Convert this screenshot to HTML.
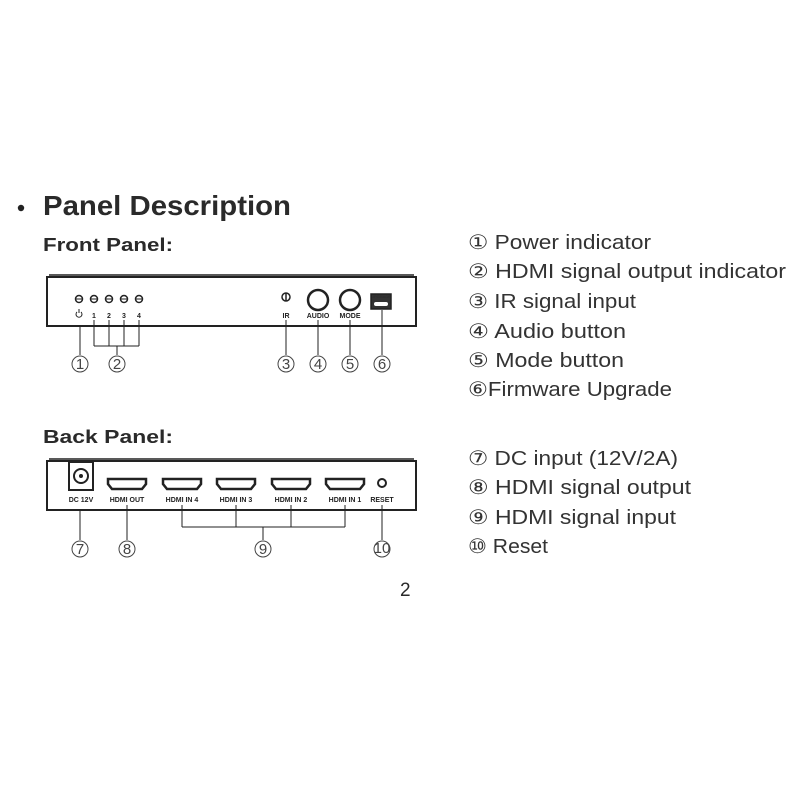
<!DOCTYPE html>
<html><head><meta charset="utf-8"><style>
body{margin:0;background:#fff;}
svg{display:block}
text{font-family:"Liberation Sans","DejaVu Sans",sans-serif;fill:#2a2a2a}
.b{font-weight:bold}
.r{font-size:20px;fill:#333}
.s{font-size:7px;font-weight:bold;fill:#222}
.n{font-size:15px;fill:#444;text-anchor:middle}
</style></head><body>
<svg width="800" height="800" viewBox="0 0 800 800" xmlns="http://www.w3.org/2000/svg">
<circle cx="21" cy="208" r="3.2" fill="#222"/>
<text x="43" y="215" class="b" font-size="28" textLength="248" lengthAdjust="spacingAndGlyphs">Panel Description</text>
<text x="43" y="251" class="b" font-size="18" textLength="130" lengthAdjust="spacingAndGlyphs" fill="#333">Front Panel:</text>
<text x="43" y="443" class="b" font-size="18" textLength="130" lengthAdjust="spacingAndGlyphs" fill="#333">Back  Panel:</text>

<text x="468" y="249" class="r" textLength="183" lengthAdjust="spacingAndGlyphs">① Power indicator</text>
<text x="468" y="278" class="r" textLength="318" lengthAdjust="spacingAndGlyphs">② HDMI signal output indicator</text>
<text x="468" y="308" class="r" textLength="168" lengthAdjust="spacingAndGlyphs">③ IR signal input</text>
<text x="468" y="338" class="r" textLength="158" lengthAdjust="spacingAndGlyphs">④ Audio button</text>
<text x="468" y="367" class="r" textLength="156" lengthAdjust="spacingAndGlyphs">⑤ Mode button</text>
<text x="468" y="396" class="r" textLength="204" lengthAdjust="spacingAndGlyphs">⑥Firmware Upgrade</text>
<text x="468" y="465" class="r" textLength="210" lengthAdjust="spacingAndGlyphs">⑦ DC input (12V/2A)</text>
<text x="468" y="494" class="r" textLength="223" lengthAdjust="spacingAndGlyphs">⑧ HDMI signal output</text>
<text x="468" y="524" class="r" textLength="208" lengthAdjust="spacingAndGlyphs">⑨ HDMI signal input</text>
<text x="468" y="553" class="r" textLength="80" lengthAdjust="spacingAndGlyphs">⑩ Reset</text>
<text x="400" y="596" font-size="19" fill="#333">2</text>

<!-- Front panel -->
<g stroke="#222" fill="none">
<path d="M49 275 L414 275" stroke-width="1.5"/>
<rect x="47" y="277" width="369" height="49" stroke-width="2"/>
<g stroke-width="1.5">
<circle cx="79" cy="299" r="3.5"/><circle cx="94" cy="299" r="3.5"/><circle cx="109" cy="299" r="3.5"/><circle cx="124" cy="299" r="3.5"/><circle cx="139" cy="299" r="3.5"/>
<path d="M75.5 299H82.5M90.5 299H97.5M105.5 299H112.5M120.5 299H127.5M135.5 299H142.5" stroke-width="1"/>
<circle cx="286" cy="297" r="4"/><path d="M286 293V301"/>
<circle cx="318" cy="300" r="10" stroke-width="2.5"/>
<circle cx="350" cy="300" r="10" stroke-width="2.5"/>
<rect x="371" y="294" width="20" height="15" fill="#333"/>
<rect x="374" y="302" width="14" height="4" rx="2" fill="#fff" stroke="none"/>
</g>
<path d="M80 326V355M94 320V346M109 320V346M124 320V346M139 320V346M94 346H139M117 346V355M286 320V355M318 320V355M350 320V355M382 310V355" stroke-width="1"/>
<g stroke-width="1" stroke="#444">
<circle cx="80" cy="364" r="8"/><circle cx="117" cy="364" r="8"/><circle cx="286" cy="364" r="8"/><circle cx="318" cy="364" r="8"/><circle cx="350" cy="364" r="8"/><circle cx="382" cy="364" r="8"/>
</g>
</g>
<path d="M77 312a3 3 0 1 0 4 0M79 309V313" stroke="#222" fill="none" stroke-width="1"/>
<text x="94" y="318" class="s" text-anchor="middle">1</text>
<text x="109" y="318" class="s" text-anchor="middle">2</text>
<text x="124" y="318" class="s" text-anchor="middle">3</text>
<text x="139" y="318" class="s" text-anchor="middle">4</text>
<text x="286" y="318" class="s" text-anchor="middle">IR</text>
<text x="318" y="318" class="s" text-anchor="middle">AUDIO</text>
<text x="350" y="318" class="s" text-anchor="middle">MODE</text>
<text x="381" y="298" font-size="4" fill="#fff" text-anchor="middle">UPGRADE</text>
<text x="80" y="369" class="n">1</text><text x="117" y="369" class="n">2</text><text x="286" y="369" class="n">3</text><text x="318" y="369" class="n">4</text><text x="350" y="369" class="n">5</text><text x="382" y="369" class="n">6</text>

<!-- Back panel -->
<g stroke="#222" fill="none">
<path d="M49 459 L414 459" stroke-width="1.5"/>
<rect x="47" y="461" width="369" height="49" stroke-width="2"/>
<rect x="69" y="462" width="24" height="28" stroke-width="2"/>
<circle cx="81" cy="476" r="7" stroke-width="2"/><circle cx="81" cy="476" r="1.5" fill="#222"/>
<g stroke-width="2.5">
<path d="M108 479h38v5l-4 5h-30l-4-5z"/>
<path d="M163 479h38v5l-4 5h-30l-4-5z"/>
<path d="M217 479h38v5l-4 5h-30l-4-5z"/>
<path d="M272 479h38v5l-4 5h-30l-4-5z"/>
<path d="M326 479h38v5l-4 5h-30l-4-5z"/>
</g>
<circle cx="382" cy="483" r="4" stroke-width="2"/>
<path d="M80 510V540M127 505V540M382 505V540M182 505V527M236 505V527M291 505V527M345 505V527M182 527H345M263 527V540" stroke-width="1"/>
<g stroke-width="1" stroke="#444">
<circle cx="80" cy="549" r="8"/><circle cx="127" cy="549" r="8"/><circle cx="263" cy="549" r="8"/><circle cx="382" cy="549" r="8"/>
</g>
</g>
<text x="81" y="502" class="s" text-anchor="middle">DC 12V</text>
<text x="127" y="502" class="s" text-anchor="middle">HDMI OUT</text>
<text x="182" y="502" class="s" text-anchor="middle">HDMI IN 4</text>
<text x="236" y="502" class="s" text-anchor="middle">HDMI IN 3</text>
<text x="291" y="502" class="s" text-anchor="middle">HDMI IN 2</text>
<text x="345" y="502" class="s" text-anchor="middle">HDMI IN 1</text>
<text x="382" y="502" class="s" text-anchor="middle">RESET</text>
<text x="80" y="554" class="n">7</text><text x="127" y="554" class="n">8</text><text x="263" y="554" class="n">9</text><text x="382" y="553" class="n" font-size="11">10</text>
</svg>
</body></html>
